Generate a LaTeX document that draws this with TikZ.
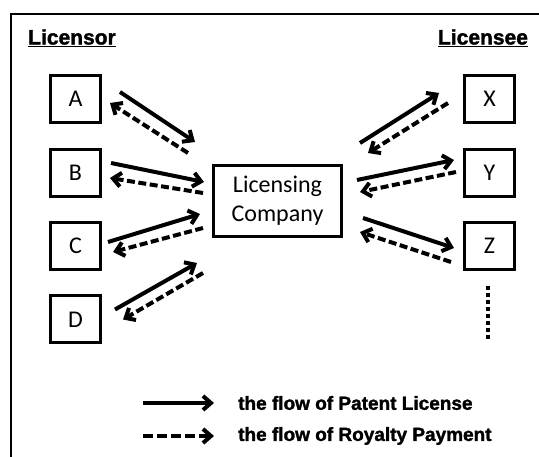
\documentclass[tikz,border=0pt]{standalone}
\usepackage{fontspec}
\setmainfont{Carlito}
\newfontfamily\headfont{Liberation Sans}[BoldFeatures={FakeBold=1.6}]
\usetikzlibrary{arrows.meta,calc}

\begin{document}
\begin{tikzpicture}[x=1pt, y=-1pt,
    party/.style={draw, line width=3pt, minimum width=50pt, minimum height=47pt, inner sep=0pt, font=\fontsize{24}{28}\selectfont},
    hub/.style={draw, line width=3pt, minimum width=128pt, minimum height=71pt, inner sep=0pt, align=center, font=\fontsize{24}{29}\selectfont},
    head/.style={font=\headfont\bfseries\fontsize{21}{24}\selectfont, inner sep=0pt},
    legtext/.style={font=\headfont\bfseries\fontsize{19}{22}\selectfont, anchor=west, inner sep=0pt},
    patent/.style={line width=4pt, -{Straight Barb[length=8pt,width=14pt]}},
    royalty/.style={patent, dash pattern=on 8pt off 3.5pt}
]
\useasboundingbox (0,0) rectangle (539,457);
\draw[line width=2.8pt] (11,457) -- (11,14) -- (539,14);

% headers
\node[head] (licensor) at (72,38) {\underline{Licensor}};
\node[head] (licensee) at (483,38) {\underline{Licensee}};

% licensors, company, licensees
\node[party] (A) at (75.5,99) {A};
\node[party] (B) at (75.5,173) {B};
\node[party] (C) at (75.5,246) {C};
\node[party] (D) at (75.5,319.5) {D};
\node[hub] (LC) at (277.5,201) {Licensing\\Company};
\node[party] (X) at (489.5,99) {X};
\node[party] (Y) at (489.5,173) {Y};
\node[party] (Z) at (489.5,246) {Z};

% licensor side
\draw[patent] ([shift={(18,-7)}]A.east) -- ([shift={(-17,-59)}]LC.west);
\draw[royalty] ([shift={(-24,-48)}]LC.west) -- ([shift={(8,4)}]A.east);
\draw[patent] ([shift={(9,-10)}]B.east) -- ([shift={(-8,-19)}]LC.west);
\draw[royalty] ([shift={(-9,-8)}]LC.west) -- ([shift={(8,5)}]B.east);
\draw[patent] ([shift={(6,-4)}]C.east) -- ([shift={(-12,13)}]LC.west);
\draw[royalty] ([shift={(-9,27)}]LC.west) -- ([shift={(11,6)}]C.east);
\draw[patent] ([shift={(13,-10)}]D.east) -- ([shift={(-15,62)}]LC.west);
\draw[royalty] ([shift={(-9,72)}]LC.west) -- ([shift={(21,0)}]D.east);

% licensee side
\draw[patent] ([shift={(17,-58)}]LC.east) -- ([shift={(-24,-6)}]X.west);
\draw[royalty] ([shift={(-15,4)}]X.west) -- ([shift={(25,-48)}]LC.east);
\draw[patent] ([shift={(14,-21)}]LC.east) -- ([shift={(-9,-13)}]Y.west);
\draw[royalty] ([shift={(-7,-1)}]Y.west) -- ([shift={(17,-9)}]LC.east);
\draw[patent] ([shift={(20,17)}]LC.east) -- ([shift={(-9,2)}]Z.west);
\draw[royalty] ([shift={(-12,16)}]Z.west) -- ([shift={(17,31)}]LC.east);

% more licensees
\coordinate (zend) at (488,340);
\draw[line width=4pt, dash pattern=on 4pt off 3pt] ([shift={(-1.5,15)}]Z.south) -- (zend);

% legend
\coordinate (ps) at (143,403);
\coordinate (pe) at (214,403);
\coordinate (rs) at (143,436);
\coordinate (re) at (214,436);
\draw[patent] (ps) -- (pe);
\draw[royalty, dash pattern=on 10pt off 4pt] (rs) -- (re);
\node[legtext] (plabel) at (238,403) {the flow of Patent License};
\node[legtext] (rlabel) at (238,436) {the flow of Royalty Payment};
\end{tikzpicture}
\end{document}
